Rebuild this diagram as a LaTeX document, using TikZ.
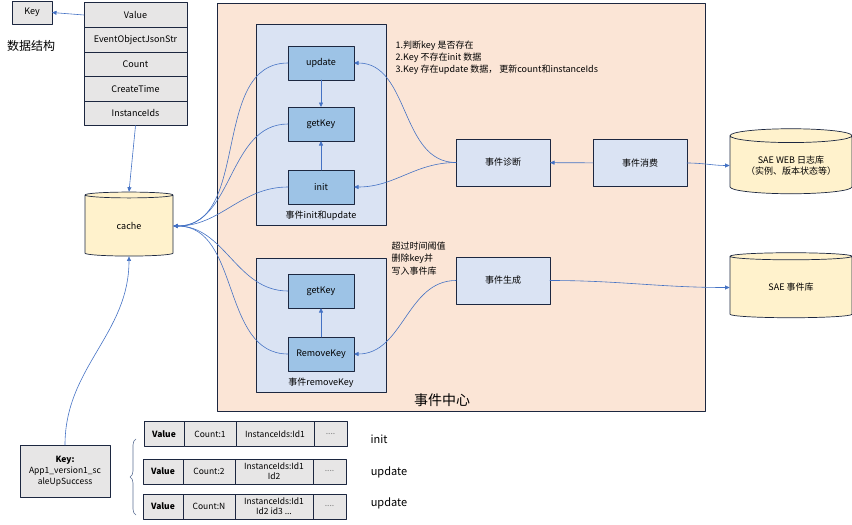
\documentclass[tikz,border=0pt]{standalone}
\usepackage{fontspec}
\setmainfont{Noto Sans CJK SC}
\usetikzlibrary{positioning,shapes.geometric,arrows.meta,decorations.pathreplacing}
\definecolor{bordc}{HTML}{1C2740}
\definecolor{linkc}{HTML}{4472C4}
\definecolor{peachc}{HTML}{FBE5D6}
\definecolor{grpc}{HTML}{DAE3F3}
\definecolor{fnc}{HTML}{9DC3E6}
\definecolor{cellc}{HTML}{E7E6E6}
\definecolor{dbc}{HTML}{FFF2CC}
\definecolor{bracec}{HTML}{5A6E94}

\begin{document}
\begin{tikzpicture}[x=1pt,y=-1pt,line cap=round,line join=round,
  font=\fontsize{9}{11}\selectfont,
  >={Triangle[length=4.5pt,width=4pt]},
  box/.style={draw=bordc,line width=0.7pt,align=center,inner sep=1pt,outer sep=0pt},
  cell/.style={box,fill=cellc,minimum height=25pt},
  field/.style={cell,minimum width=103pt,minimum height=24.6pt},
  grp/.style={box,fill=grpc,minimum width=130pt},
  fn/.style={box,fill=fnc,minimum width=66pt,minimum height=34pt},
  proc/.style={box,fill=grpc,minimum width=94pt,minimum height=47pt},
  db/.style={cylinder,shape border rotate=90,aspect=0.2,draw=bordc,fill=dbc,line width=0.7pt,align=center,inner sep=1pt},
  link/.style={draw=linkc,line width=0.6pt}]
  \useasboundingbox (0,0) rectangle (852,525);
  % 事件中心
  \node[box,fill=peachc,minimum width=488pt,minimum height=408pt] (center) at (461,207) {};
  \node[font=\fontsize{14}{16}\selectfont] (centertitle) at (442,400) {事件中心};
  \node[grp,minimum height=201pt] (grpa) at (321,124.5) {};
  \node (grpalabel) at (321,216) {事件init和update};
  \node[grp,minimum height=134pt] (grpb) at (321,325) {};
  \node (grpblabel) at (321,383) {事件removeKey};
  \node[fn] (update) at (321,63) {update};
  \node[fn] (getkeya) at (321,124) {getKey};
  \node[fn] (init) at (321,187) {init};
  \node[fn] (getkeyb) at (321,291) {getKey};
  \node[fn] (removekey) at (321,354) {RemoveKey};
  \node[proc] (diag) at (503,162.5) {事件诊断};
  \node[proc] (consume) at (640,163) {事件消费};
  \node[proc] (gen) at (503,280.5) {事件生成};
  \node[anchor=north west,align=left,font=\fontsize{9}{12}\selectfont] (notea) at (392,37)
    {1.判断key 是否存在\\2.Key 不存在init 数据\\3.Key 存在update 数据， 更新count和instanceIds};
  \node[anchor=north west,align=left,font=\fontsize{9}{12.5}\selectfont] (noteb) at (388,238)
    {超过时间阈值\\删除key并\\写入事件库};
  % 库
  \node[db,aspect=0.22,minimum width=88pt,minimum height=64pt] (cache) at (129,226) {cache};
  \node[db,aspect=0.15,minimum width=122pt,minimum height=65pt] (weblog) at (791,165.5) {SAE WEB 日志库\\（实例、版本状态等）};
  \node[db,aspect=0.15,minimum width=122pt,minimum height=65pt] (eventdb) at (791,287.5) {SAE 事件库};
  % 数据结构
  \node[cell,minimum width=40pt,minimum height=23pt] (key) at (32,12.5) {Key};
  \node[font=\fontsize{12}{14}\selectfont] (dstitle) at (31,46) {数据结构};
  \node[field] (fvalue) at (135.5,15) {Value};
  \node[field,below=0pt of fvalue] (fjson) {EventObjectJsonStr};
  \node[field,below=0pt of fjson] (fcount) {Count};
  \node[field,below=0pt of fcount] (ftime) {CreateTime};
  \node[field,below=0pt of ftime] (finst) {InstanceIds};
  % 示例
  \node[cell,minimum width=90pt,minimum height=52pt,font=\fontsize{8.5}{11}\selectfont] (keyname) at (65,471)
    {\textbf{Key:}\\App1\_version1\_sc\\aleUpSuccess};
  \begin{scope}[font=\fontsize{8.5}{10}\selectfont]
    \node[cell,minimum width=40pt,font=\bfseries\fontsize{8.5}{10}\selectfont] (vala) at (164,434) {Value};
    \node[cell,minimum width=52pt,right=0pt of vala] (cnta) {Count:1};
    \node[cell,minimum width=78pt,right=0pt of cnta] (idsa) {InstanceIds:Id1};
    \node[cell,minimum width=33pt,right=0pt of idsa,text=gray] (morea) {....};
    \node[cell,minimum width=40pt,font=\bfseries\fontsize{8.5}{10}\selectfont] (valb) at (163,471.5) {Value};
    \node[cell,minimum width=52pt,right=0pt of valb] (cntb) {Count:2};
    \node[cell,minimum width=78pt,right=0pt of cntb] (idsb) {InstanceIds:Id1\\Id2};
    \node[cell,minimum width=33pt,right=0pt of idsb,text=gray] (moreb) {....};
    \node[cell,minimum width=40pt,font=\bfseries\fontsize{8.5}{10}\selectfont] (valc) at (163,506.5) {Value};
    \node[cell,minimum width=52pt,right=0pt of valc] (cntc) {Count:N};
    \node[cell,minimum width=78pt,right=0pt of cntc] (idsc) {InstanceIds:Id1\\Id2 id3 ...};
    \node[cell,minimum width=33pt,right=0pt of idsc,text=gray] (morec) {....};
  \end{scope}
  \node[font=\fontsize{11}{13}\selectfont] (lbla) at (379,439) {init};
  \node[font=\fontsize{11}{13}\selectfont] (lblb) at (389,472) {update};
  \node[font=\fontsize{11}{13}\selectfont] (lblc) at (389,503) {update};
  \draw[decorate,decoration={brace,amplitude=6pt},draw=bracec,line width=0.6pt] (136,515) -- (136,439);
  % 连线
  \draw[link,->] (fvalue.west) -- (key.east);
  \draw[link,->] (finst.south) -- (cache.north);
  \draw[link,->] (keyname.north) to[out=90,in=-90] (cache.south);
  \foreach \n in {update,getkeya,init,getkeyb,removekey} {
    \draw[link,->] (\n.west) to[out=180,in=0] (cache.east);
  }
  \draw[link,->] (update) -- (getkeya);
  \draw[link,->] (init) -- (getkeya);
  \draw[link,->] (removekey) -- (getkeyb);
  \draw[link,->] (diag.west) to[out=180,in=0] (update.east);
  \draw[link,->] (diag.west) to[out=180,in=0] (init.east);
  \draw[link,->] (gen.west) to[out=180,in=0] (removekey.east);
  \draw[link,->] (consume) -- (diag);
  \draw[link,->] (consume.east) to[out=0,in=180] (weblog.west);
  \draw[link,->] (gen.east) to[out=0,in=180] (eventdb.west);
\end{tikzpicture}
\end{document}
